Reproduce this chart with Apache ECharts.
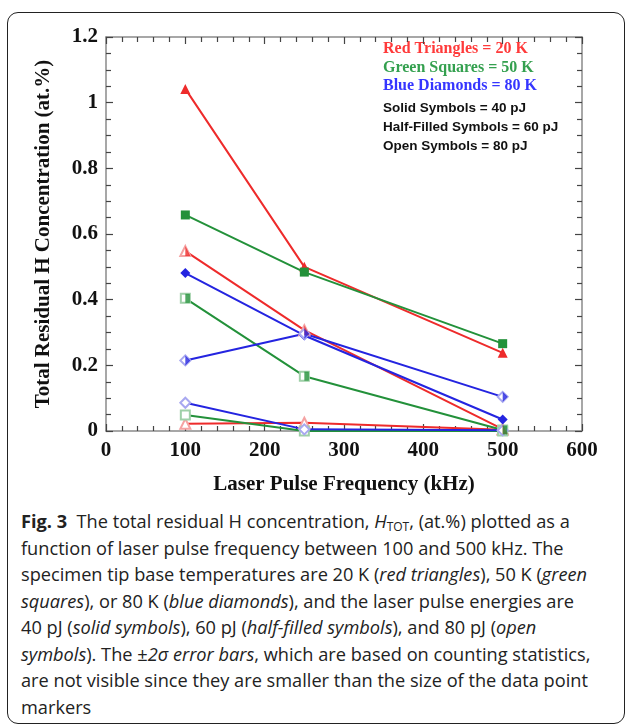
<!DOCTYPE html>
<html>
<head>
<meta charset="utf-8">
<script src="https://cdn.jsdelivr.net/npm/echarts@6/dist/echarts.min.js"></script>
<style>
  html, body { margin: 0; padding: 0; background: #fff; }
  #frame {
    position: absolute; left: 7px; top: 12px; width: 618px; height: 712px;
    border: 1px solid #222; border-radius: 11px; box-sizing: border-box;
  }
  #main { position: absolute; left: 0; top: 0; width: 629px; height: 500px; }
  #caption {
    position: absolute; left: 21px; top: 508px;
    font-family: "Open Sans", "Noto Sans", sans-serif;
    font-size: 18.2px; line-height: 26.5px; color: #222; white-space: nowrap;
  }
  #caption b { font-weight: 700; }
  sub { font-size: 12px; vertical-align: -3px; line-height: 0; }
</style>
</head>
<body>
<div id="frame"></div>
<div id="main"></div>
<div id="caption">
<b>Fig. 3</b>&nbsp; The total residual H concentration, <i>H</i><sub>TOT</sub>, (at.%) plotted as a<br>
function of laser pulse frequency between 100 and 500 kHz. The<br>
specimen tip base temperatures are 20 K (<i>red triangles</i>), 50 K (<i>green</i><br>
<i>squares</i>), or 80 K (<i>blue diamonds</i>), and the laser pulse energies are<br>
40 pJ (<i>solid symbols</i>), 60 pJ (<i>half-filled symbols</i>), and 80 pJ (<i>open</i><br>
<i>symbols</i>). The ±<i>2σ error bars</i>, which are based on counting statistics,<br>
are not visible since they are smaller than the size of the data point<br>
markers
</div>
<script type="text/javascript">
    // frequencies (kHz)
    var freq = [100, 250, 500];

    // 20 K - red triangles
    var red40 = [1.042, 0.500, 0.238];
    var red60 = [0.548, 0.307, 0.006];
    var red80 = [0.022, 0.025, 0.004];

    // 50 K - green squares
    var green40 = [0.658, 0.484, 0.266];
    var green60 = [0.404, 0.167, 0.003];
    var green80 = [0.049, 0.000, 0.000];

    // 80 K - blue diamonds
    var blue40 = [0.481, 0.291, 0.035];
    var blue60 = [0.215, 0.296, 0.104];
    var blue80 = [0.086, 0.005, 0.002];

    var xTicks = [0, 100, 200, 300, 400, 500, 600];
    var yTicks = [0, 0.2, 0.4, 0.6, 0.8, 1, 1.2];

    var legendLines = [
        {text: 'Red Triangles = 20 K', color: '#ff3a3a'},
        {text: 'Green Squares = 50 K', color: '#34a04f'},
        {text: 'Blue Diamonds = 80 K', color: '#3535ff'}
    ];
    var energyLines = ['Solid Symbols = 40 pJ', 'Half-Filled Symbols = 60 pJ', 'Open Symbols = 80 pJ'];

    var RED = '#ee2b2b', GREEN = '#23913a', BLUE = '#2424e0';
    var RED_PALE = '#f5a3a3', GREEN_PALE = '#9fd0a8', BLUE_PALE = '#a8a8f0';

    var shapes = {
        tri: {solid: 'triangle', empty: 'emptyTriangle', half: 'path://M0,0L1,2L0,2Z'},
        sq: {solid: 'rect', empty: 'emptyRect', half: 'rect'},
        dia: {solid: 'diamond', empty: 'emptyDiamond', half: 'path://M0,0L1,1L0,2Z'}
    };

    function pts(vals) {
        var out = [];
        for (var i = 0; i < vals.length; i++) out.push([freq[i], vals[i]]);
        return out;
    }

    var series = [];
    function addLine(vals, color, shape, kind, pale) {
        var size = shape === 'sq' ? 9 : 10;
        if (kind === 'solid') {
            series.push({
                type: 'line', data: pts(vals), symbol: shapes[shape].solid, symbolSize: size,
                lineStyle: {color: color, width: 2}, itemStyle: {color: color}, z: 3
            });
        } else if (kind === 'empty') {
            series.push({
                type: 'line', data: pts(vals), symbol: shapes[shape].empty, symbolSize: size,
                lineStyle: {color: color, width: 2}, itemStyle: {color: pale, borderWidth: 1.2}, z: 3
            });
        } else {
            series.push({
                type: 'line', data: pts(vals), symbol: shapes[shape].empty, symbolSize: size,
                lineStyle: {color: color, width: 2}, itemStyle: {color: pale, borderWidth: 1.2}, z: 3
            });
            // right half filled
            series.push({
                type: 'scatter', data: pts(vals), symbol: shapes[shape].half,
                symbolSize: [size / 2, size], symbolOffset: ['50%', 0],
                itemStyle: {color: color}, z: 4, silent: true
            });
        }
    }

    addLine(red40, RED, 'tri', 'solid');
    addLine(red60, RED, 'tri', 'half', RED_PALE);
    addLine(red80, RED, 'tri', 'empty', RED_PALE);
    addLine(green40, GREEN, 'sq', 'solid');
    addLine(green60, GREEN, 'sq', 'half', GREEN_PALE);
    addLine(green80, GREEN, 'sq', 'empty', GREEN_PALE);
    addLine(blue40, BLUE, 'dia', 'solid');
    addLine(blue60, BLUE, 'dia', 'half', BLUE_PALE);
    addLine(blue80, BLUE, 'dia', 'empty', BLUE_PALE);

    var graphics = [];
    for (var i = 0; i < legendLines.length; i++) {
        graphics.push({
            type: 'text', left: 383, top: 41 + i * 18.5,
            style: {text: legendLines[i].text, fill: legendLines[i].color,
                font: 'bold 16px "Liberation Serif", serif'}
        });
    }
    for (var j = 0; j < energyLines.length; j++) {
        graphics.push({
            type: 'text', left: 383, top: 101 + j * 19,
            style: {text: energyLines[j], fill: '#111',
                font: 'bold 13.5px "Liberation Sans", sans-serif'}
        });
    }

    var axisFont = {fontFamily: 'Liberation Serif', fontWeight: 'bold', fontSize: 21, color: '#111'};

    function frameAxis(pos, min, max, step, minorSplit) {
        return {
            type: 'value', position: pos, min: min, max: max, interval: step,
            axisLine: {show: true, onZero: false, lineStyle: {color: '#8a8a8a', width: 1.5}},
            axisTick: {show: true, inside: true, length: 7, lineStyle: {color: '#444', width: 1.2}},
            minorTick: {show: true, splitNumber: minorSplit, length: 5, lineStyle: {color: '#444', width: 1.2}},
            axisLabel: {show: false}, splitLine: {show: false}, minorSplitLine: {show: false}
        };
    }

    var xMain = frameAxis('bottom', xTicks[0], xTicks[xTicks.length - 1], 100, 5);
    xMain.name = 'Laser Pulse Frequency (kHz)';
    xMain.nameLocation = 'middle';
    xMain.nameGap = 43;
    xMain.nameTextStyle = axisFont;
    xMain.axisLabel = Object.assign({show: true, margin: 9}, axisFont);

    var yMain = frameAxis('left', yTicks[0], yTicks[yTicks.length - 1], 0.2, 4);
    yMain.name = 'Total Residual H Concentration (at.%)';
    yMain.nameLocation = 'middle';
    yMain.nameGap = 52;
    yMain.nameTextStyle = axisFont;
    yMain.axisLabel = Object.assign({show: true, margin: 8}, axisFont);

    var myChart = echarts.init(document.getElementById('main'));
    var option = {
        animation: false,
        grid: {left: 106, top: 37, width: 476, height: 396, show: false},
        xAxis: [xMain, frameAxis('top', 0, 600, 100, 5)],
        yAxis: [yMain, frameAxis('right', 0, 1.2, 0.2, 4)],
        graphic: graphics,
        series: series
    };
    myChart.setOption(option);
</script>
</body>
</html>
